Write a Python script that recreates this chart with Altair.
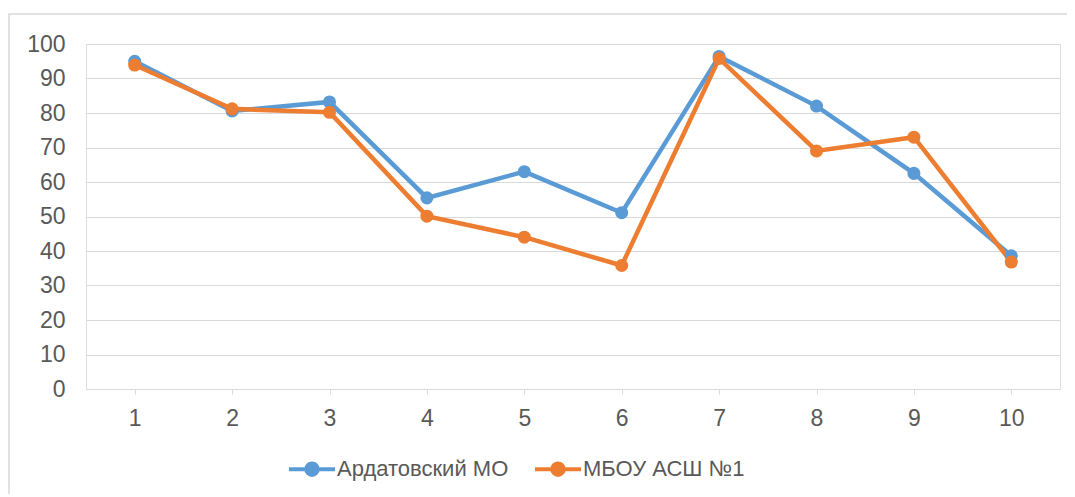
import altair as alt
import pandas as pd

tasks = [1, 2, 3, 4, 5, 6, 7, 8, 9, 10]
series_names = ["Ардатовский МО", "МБОУ АСШ №1"]
ardatov = [95, 80.6, 83.2, 55.4, 63, 51.1, 96.4, 82, 62.5, 38.6]
mbou = [93.9, 81.2, 80.2, 50.1, 44, 35.8, 95.8, 69, 73, 36.8]
colors = ["#5B9BD5", "#ED7D31"]

rows = []
for name, vals in zip(series_names, [ardatov, mbou]):
    for t, v in zip(tasks, vals):
        rows.append({"task": t, "value": v, "series": name})
df = pd.DataFrame(rows)

FONT = "Liberation Sans"
FS = 23

x = alt.X("task:O", title=None,
          scale=alt.Scale(type="point", padding=0.5),
          axis=alt.Axis(labelAngle=0, labelFontSize=FS, labelColor="#595959", labelFont=FONT,
                        domainColor="#d9d9d9", tickColor="#d9d9d9", tickSize=5,
                        labelPadding=13, grid=False))
y = alt.Y("value:Q", title=None,
          scale=alt.Scale(domain=[0, 100], nice=False),
          axis=alt.Axis(values=list(range(0, 101, 10)), labelFontSize=FS, labelColor="#595959",
                        labelFont=FONT, domain=False, ticks=False, labelPadding=21,
                        grid=True, gridColor="#d9d9d9", gridWidth=1))
color = alt.Color("series:N", title=None,
                  scale=alt.Scale(domain=series_names, range=colors),
                  legend=alt.Legend(orient="none", legendX=201, legendY=400, direction="horizontal",
                                    columns=2, columnPadding=18, labelOffset=0, padding=0,
                                    labelFontSize=FS - 1, labelFont=FONT, labelColor="#595959",
                                    labelLimit=400,
                                    symbolType="M-1,0H1M0.25,0A0.25,0.25 0 1,1 -0.25,0A0.25,0.25 0 1,1 0.25,0",
                                    symbolSize=2116, symbolStrokeWidth=4))

lines = alt.Chart(df).mark_line(strokeWidth=4.5).encode(x=x, y=y, color=color, detail="series:N")
points = alt.Chart(df).mark_point(filled=True, size=170, opacity=1).encode(x=x, y=y, color=color)

border_df = pd.DataFrame({"b": [0]})
border = alt.Chart(border_df).mark_rect(fillOpacity=0, stroke="#d9d9d9", strokeWidth=1.5).encode(
    x=alt.value(-77), x2=alt.value(984), y=alt.value(-30), y2=alt.value(470))

chart = alt.layer(border, lines, points).properties(
    width=974, height=345,
    autosize=alt.AutoSizeParams(type="none"),
    padding={"left": 78, "top": 36, "right": 7, "bottom": 105},
).configure_view(stroke=None).configure(background="white")

chart.save("out.html", embed_options={"renderer": "svg", "actions": False})
